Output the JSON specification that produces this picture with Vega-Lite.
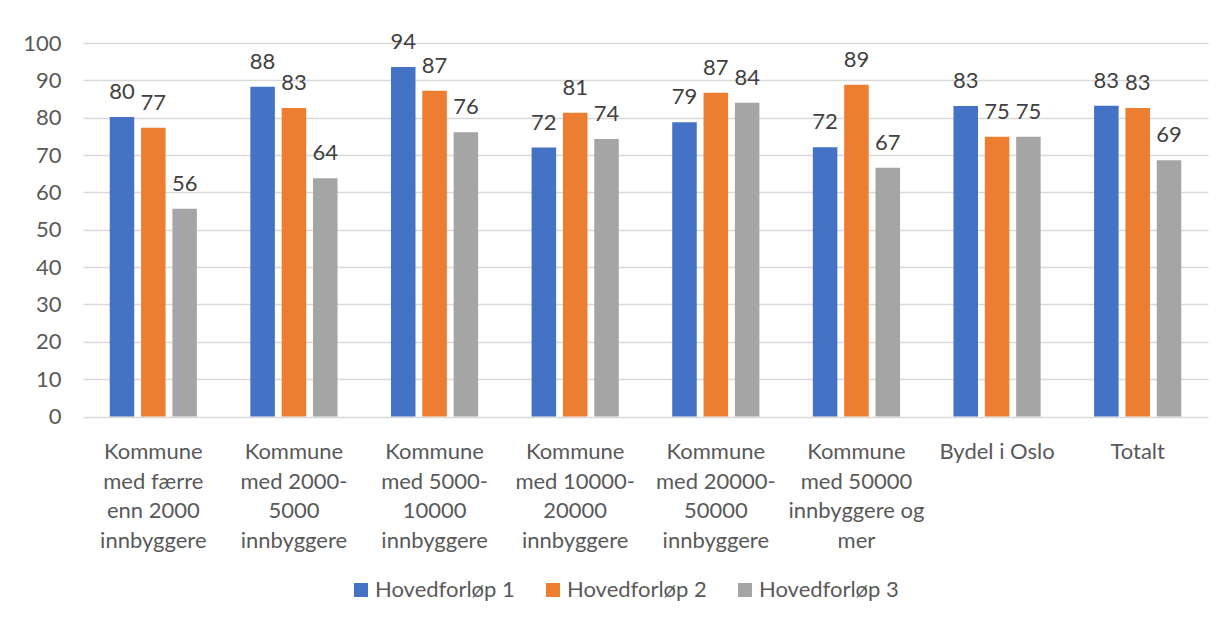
{
  "$schema": "https://vega.github.io/schema/vega-lite/v6.json",
  "autosize": {"type": "none"},
  "padding": {"left": 83, "top": 43, "right": 17, "bottom": 200},
  "width": 1125,
  "height": 373.5,
  "background": "white",
  "data": {
    "values": [
      {"kategori": "Kommune med færre enn 2000 innbyggere", "serie": "Hovedforløp 1", "verdi": 80.2},
      {"kategori": "Kommune med færre enn 2000 innbyggere", "serie": "Hovedforløp 2", "verdi": 77.3},
      {"kategori": "Kommune med færre enn 2000 innbyggere", "serie": "Hovedforløp 3", "verdi": 55.6},
      {"kategori": "Kommune med 2000-5000 innbyggere", "serie": "Hovedforløp 1", "verdi": 88.3},
      {"kategori": "Kommune med 2000-5000 innbyggere", "serie": "Hovedforløp 2", "verdi": 82.6},
      {"kategori": "Kommune med 2000-5000 innbyggere", "serie": "Hovedforløp 3", "verdi": 63.8},
      {"kategori": "Kommune med 5000-10000 innbyggere", "serie": "Hovedforløp 1", "verdi": 93.6},
      {"kategori": "Kommune med 5000-10000 innbyggere", "serie": "Hovedforløp 2", "verdi": 87.2},
      {"kategori": "Kommune med 5000-10000 innbyggere", "serie": "Hovedforløp 3", "verdi": 76.1},
      {"kategori": "Kommune med 10000-20000 innbyggere", "serie": "Hovedforløp 1", "verdi": 72.0},
      {"kategori": "Kommune med 10000-20000 innbyggere", "serie": "Hovedforløp 2", "verdi": 81.3},
      {"kategori": "Kommune med 10000-20000 innbyggere", "serie": "Hovedforløp 3", "verdi": 74.3},
      {"kategori": "Kommune med 20000-50000 innbyggere", "serie": "Hovedforløp 1", "verdi": 78.8},
      {"kategori": "Kommune med 20000-50000 innbyggere", "serie": "Hovedforløp 2", "verdi": 86.7},
      {"kategori": "Kommune med 20000-50000 innbyggere", "serie": "Hovedforløp 3", "verdi": 84.0},
      {"kategori": "Kommune med 50000 innbyggere og mer", "serie": "Hovedforløp 1", "verdi": 72.1},
      {"kategori": "Kommune med 50000 innbyggere og mer", "serie": "Hovedforløp 2", "verdi": 88.8},
      {"kategori": "Kommune med 50000 innbyggere og mer", "serie": "Hovedforløp 3", "verdi": 66.6},
      {"kategori": "Bydel i Oslo", "serie": "Hovedforløp 1", "verdi": 83.1},
      {"kategori": "Bydel i Oslo", "serie": "Hovedforløp 2", "verdi": 74.9},
      {"kategori": "Bydel i Oslo", "serie": "Hovedforløp 3", "verdi": 74.9},
      {"kategori": "Totalt", "serie": "Hovedforløp 1", "verdi": 83.2},
      {"kategori": "Totalt", "serie": "Hovedforløp 2", "verdi": 82.6},
      {"kategori": "Totalt", "serie": "Hovedforløp 3", "verdi": 68.6}
    ]
  },
  "encoding": {
    "x": {
      "field": "kategori",
      "type": "nominal",
      "sort": null,
      "scale": {"paddingInner": 0.38, "paddingOuter": 0.19},
      "axis": {
        "title": null,
        "labelAngle": 0,
        "domain": false,
        "ticks": false,
        "labelPadding": 25,
        "labelFont": "Lato",
        "labelFontSize": 22,
        "labelColor": "#595959",
        "labelLineHeight": 29.5,
        "labelBaseline": "top",
        "labelLimit": 200,
        "labelExpr": "({'Kommune med færre enn 2000 innbyggere': ['Kommune','med færre','enn 2000','innbyggere'], 'Kommune med 2000-5000 innbyggere': ['Kommune','med 2000-','5000','innbyggere'], 'Kommune med 5000-10000 innbyggere': ['Kommune','med 5000-','10000','innbyggere'], 'Kommune med 10000-20000 innbyggere': ['Kommune','med 10000-','20000','innbyggere'], 'Kommune med 20000-50000 innbyggere': ['Kommune','med 20000-','50000','innbyggere'], 'Kommune med 50000 innbyggere og mer': ['Kommune','med 50000','innbyggere og','mer'], 'Bydel i Oslo': 'Bydel i Oslo', 'Totalt': 'Totalt'})[datum.value]"
      }
    },
    "xOffset": {
      "field": "serie",
      "type": "nominal",
      "scale": {"paddingInner": 0.217, "paddingOuter": 0}
    },
    "y": {
      "field": "verdi",
      "type": "quantitative",
      "scale": {"domain": [0, 100], "nice": false},
      "axis": {
        "title": null,
        "values": [0, 10, 20, 30, 40, 50, 60, 70, 80, 90, 100],
        "domain": false,
        "ticks": false,
        "labelPadding": 22,
        "labelFont": "Lato",
        "labelFontSize": 22,
        "labelColor": "#595959",
        "gridColor": "#d9d9d9",
        "gridWidth": 1.3
      }
    }
  },
  "layer": [
    {
      "mark": {"type": "bar"},
      "encoding": {
        "color": {
          "field": "serie",
          "type": "nominal",
          "scale": {
            "domain": ["Hovedforløp 1", "Hovedforløp 2", "Hovedforløp 3"],
            "range": ["#4472C4", "#ED7D31", "#A5A5A5"]
          },
          "legend": {
            "title": null,
            "orient": "none",
            "direction": "horizontal",
            "legendX": 267,
            "legendY": 536,
            "symbolType": "square",
            "symbolSize": 196,
            "symbolStrokeWidth": 0,
            "labelFont": "Lato",
            "labelFontSize": 22,
            "labelColor": "#595959",
            "labelOffset": 3,
            "columnPadding": 27,
            "labelLimit": 300
          }
        }
      }
    },
    {
      "mark": {"type": "text", "baseline": "alphabetic", "dy": -18, "font": "Lato", "fontSize": 22, "color": "#404040"},
      "encoding": {
        "text": {"field": "verdi", "type": "quantitative", "format": ".0f"}
      }
    }
  ],
  "config": {"view": {"stroke": null}}
}
